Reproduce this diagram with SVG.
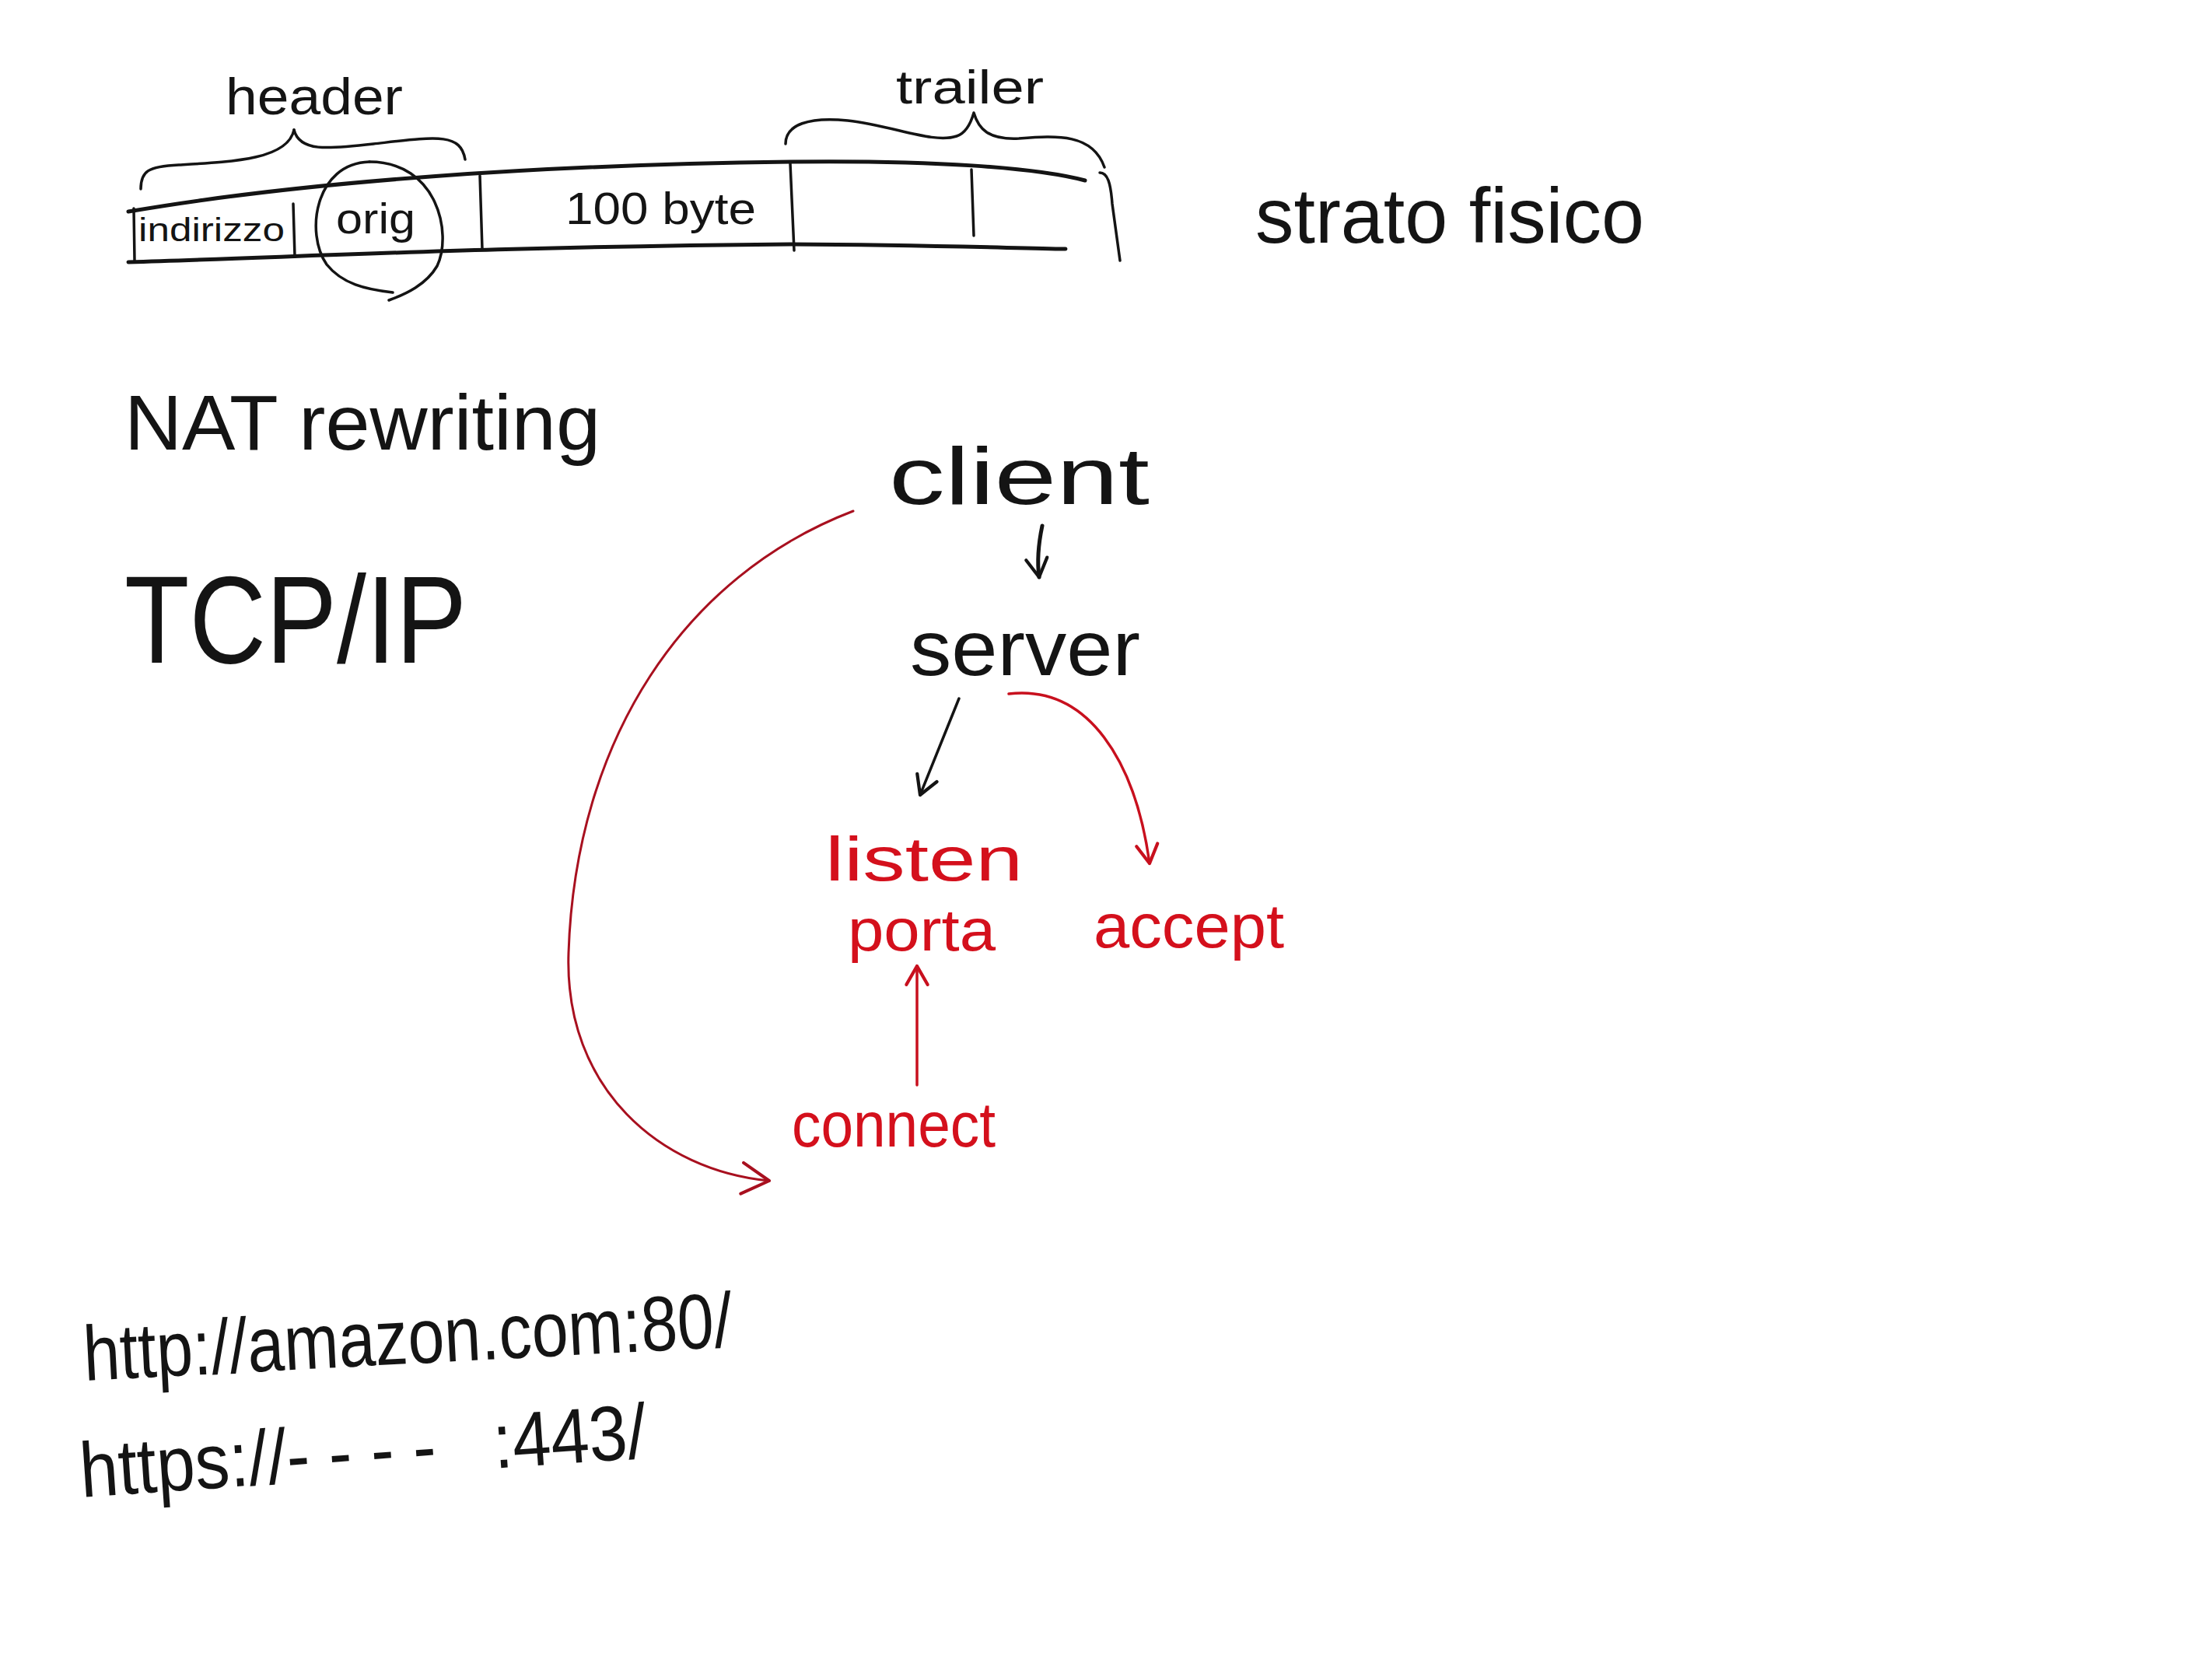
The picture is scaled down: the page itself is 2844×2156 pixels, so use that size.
<svg xmlns="http://www.w3.org/2000/svg" width="2844" height="2156" viewBox="0 0 2844 2156">
<style>
.ink{fill:none;stroke:#141414;stroke-width:5;stroke-linecap:round;stroke-linejoin:round}
.thin{fill:none;stroke:#141414;stroke-width:3.5;stroke-linecap:round;stroke-linejoin:round}
.red{fill:none;stroke:#c8101e;stroke-width:3.5;stroke-linecap:round;stroke-linejoin:round}
.dred{fill:none;stroke:#a8101f;stroke-width:3;stroke-linecap:round;stroke-linejoin:round}
.t{font-family:"Liberation Sans",Arial,sans-serif;fill:#141414}
.tr{font-family:"Liberation Sans",Arial,sans-serif;fill:#d4101c}
</style>
<defs>
<marker id="ahB" viewBox="0 0 20 20" refX="16" refY="10" markerWidth="34" markerHeight="34" markerUnits="userSpaceOnUse" orient="auto">
<path d="M2,2 L16,10 L2,18" fill="none" stroke="#141414" stroke-width="2.5" stroke-linecap="round" stroke-linejoin="round"/>
</marker>
<marker id="ahR" viewBox="0 0 20 20" refX="16" refY="10" markerWidth="34" markerHeight="34" markerUnits="userSpaceOnUse" orient="auto">
<path d="M2,2 L16,10 L2,18" fill="none" stroke="#c8101e" stroke-width="2.5" stroke-linecap="round" stroke-linejoin="round"/>
</marker>
<marker id="ahD" viewBox="0 0 20 20" refX="16" refY="10" markerWidth="50" markerHeight="50" markerUnits="userSpaceOnUse" orient="auto">
<path d="M2,2 L16,10 L2,18" fill="none" stroke="#a8101f" stroke-width="1.6" stroke-linecap="round" stroke-linejoin="round"/>
</marker>
</defs>
<rect x="0" y="0" width="2844" height="2156" fill="#ffffff"/>

<!-- packet band drawing -->
<g id="packet">
<path class="ink" d="M165,272 C 400,232 700,212 1016,208 C 1200,206 1330,215 1395,232"/>
<path class="ink" d="M165,337 C 400,330 600,318 1016,314 C 1200,315 1300,319 1370,320"/>
<path class="thin" d="M172,268 L173,335"/>
<path class="thin" d="M377,262 L379,330"/>
<path class="thin" d="M617,226 L620,320"/>
<path class="thin" d="M1016,210 L1021,322"/>
<path class="thin" d="M1249,218 L1252,303"/>
<path class="thin" d="M1414,222 C 1424,222 1428,235 1430,262 L1440,335"/>
</g>

<g id="header-brace">
<path class="thin" d="M181,243 C 181,220 190,214 230,212 C 300,208 370,205 378,167"/>
<path class="thin" d="M378,167 C 385,195 420,192 480,185 C 560,176 592,170 598,205"/>
<text class="t" x="290" y="147" font-size="66" textLength="228" lengthAdjust="spacingAndGlyphs">header</text>
</g>

<g id="trailer-brace">
<path class="thin" d="M1010,185 C 1010,160 1040,150 1090,155 C 1150,162 1200,185 1230,175 C 1245,170 1250,152 1252,145 C 1258,165 1270,180 1310,178 C 1360,174 1405,172 1420,215"/>
<text class="t" x="1152" y="133" font-size="62" textLength="190" lengthAdjust="spacingAndGlyphs">trailer</text>
</g>

<g id="field-indirizzo">
<text class="t" x="178" y="310" font-size="42" textLength="188" lengthAdjust="spacingAndGlyphs">indirizzo</text>
</g>

<g id="field-orig">
<path class="thin" d="M475,208 C 405,210 392,300 420,340 C 440,365 470,372 505,376"/>
<path class="thin" d="M475,208 C 562,208 582,300 562,342 C 548,366 522,378 500,386"/>
<text class="t" x="432" y="300" font-size="56" textLength="102" lengthAdjust="spacingAndGlyphs">orig</text>
</g>

<g id="field-payload">
<text class="t" x="727" y="288" font-size="58" textLength="245" lengthAdjust="spacingAndGlyphs">100 byte</text>
</g>

<g id="strato-fisico">
<text class="t" x="1614" y="312" font-size="100" textLength="500" lengthAdjust="spacingAndGlyphs">strato fisico</text>
</g>

<g id="nat-rewriting">
<text class="t" x="160" y="578" font-size="100" textLength="612" lengthAdjust="spacingAndGlyphs">NAT rewriting</text>
</g>

<g id="tcp-ip">
<text class="t" x="160" y="852" font-size="160" textLength="440" lengthAdjust="spacingAndGlyphs">TCP/IP</text>
</g>

<g id="client">
<text class="t" x="1143" y="648" font-size="104" textLength="335" lengthAdjust="spacingAndGlyphs">client</text>
</g>

<g id="server">
<text class="t" x="1170" y="868" font-size="100" textLength="296" lengthAdjust="spacingAndGlyphs">server</text>
</g>

<g id="listen">
<text class="tr" x="1061" y="1132" font-size="80" textLength="254" lengthAdjust="spacingAndGlyphs">listen</text>
</g>

<g id="porta">
<text class="tr" x="1090" y="1222" font-size="76" textLength="190" lengthAdjust="spacingAndGlyphs">porta</text>
</g>

<g id="accept">
<text class="tr" x="1406" y="1218" font-size="80" textLength="245" lengthAdjust="spacingAndGlyphs">accept</text>
</g>

<g id="connect">
<text class="tr" x="1018" y="1474" font-size="82" textLength="262" lengthAdjust="spacingAndGlyphs">connect</text>
</g>

<g id="http-url">
<text class="t" x="109" y="1775" font-size="100" textLength="835" lengthAdjust="spacingAndGlyphs" transform="rotate(-3 109 1775)">http://amazon.com:80/</text>
</g>

<g id="https-url">
<text class="t" x="105" y="1925" font-size="100" textLength="730" lengthAdjust="spacingAndGlyphs" transform="rotate(-4 105 1925)" xml:space="preserve">https://- - - -   :443/</text>
</g>

<g id="connectors">
<path class="ink" d="M1340,676 C 1335,700 1333,720 1336,742" marker-end="url(#ahB)"/>
<path class="thin" d="M1233,898 L1183,1022" marker-end="url(#ahB)"/>
<path class="red" d="M1297,892 C 1400,880 1460,980 1478,1110" marker-end="url(#ahR)"/>
<path class="red" d="M1179,1395 L1179,1242" marker-end="url(#ahR)"/>
<path class="dred" d="M1097,657 C 880,740 740,950 731,1225 C 725,1400 850,1505 989,1518" marker-end="url(#ahD)"/>
</g>
</svg>
